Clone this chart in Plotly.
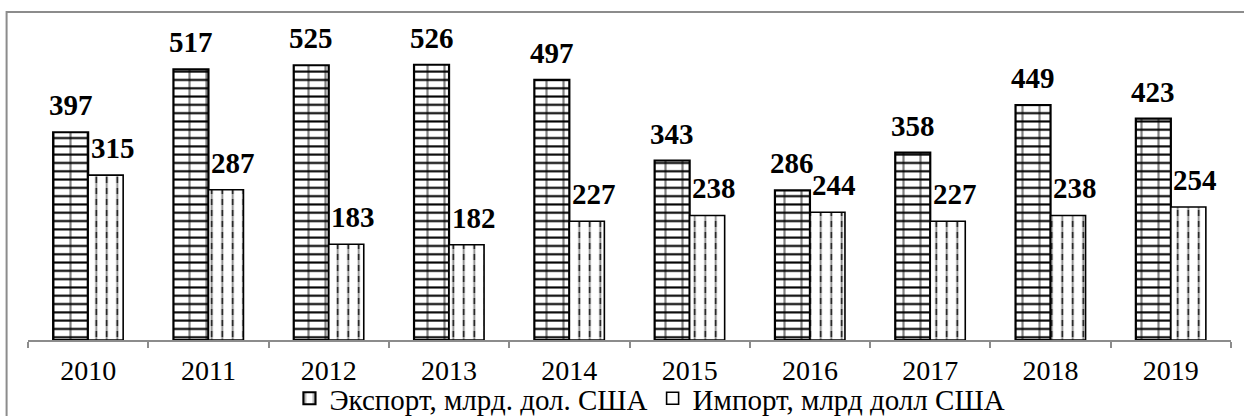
import plotly.graph_objects as go

years = ["2010", "2011", "2012", "2013", "2014", "2015", "2016", "2017", "2018", "2019"]
export_vals = [397, 517, 525, 526, 497, 343, 286, 358, 449, 423]
import_vals = [315, 287, 183, 182, 227, 238, 244, 227, 238, 254]
export_name = "Экспорт, млрд. дол. США"
import_name = "Импорт, млрд долл США"

FONT = "Liberation Serif, Times New Roman, serif"
BW = 0.291  # bar width in category units

fig = go.Figure()

# Export: horizontal brick courses (bottom layer)
fig.add_trace(go.Bar(
    x=years, y=export_vals, width=BW, offset=-BW, showlegend=False, hoverinfo="skip",
    marker=dict(color="white", line=dict(width=0),
                pattern=dict(shape="-", size=8.3, solidity=0.25,
                             fgcolor="black", bgcolor="white", fillmode="replace")),
))
# Export: vertical joints + outline (top layer)
fig.add_trace(go.Bar(
    x=years, y=export_vals, width=BW, offset=-BW, name=export_name,
    marker=dict(color="rgba(0,0,0,0)", line=dict(width=2.2, color="black"),
                pattern=dict(shape="|", size=17, solidity=0.13,
                             fgcolor="black", bgcolor="rgba(0,0,0,0)", fillmode="overlay")),
))
# Import: vertical lines (bottom layer)
fig.add_trace(go.Bar(
    x=years, y=import_vals, width=BW, offset=0, showlegend=False, hoverinfo="skip",
    marker=dict(color="white", line=dict(width=0),
                pattern=dict(shape="|", size=10.5, solidity=0.16,
                             fgcolor="black", bgcolor="white", fillmode="replace")),
))
# Import: white breaks to make dashes + outline (top layer)
fig.add_trace(go.Bar(
    x=years, y=import_vals, width=BW, offset=0, name=import_name,
    marker=dict(color="rgba(0,0,0,0)", line=dict(width=1.6, color="black"),
                pattern=dict(shape="-", size=11, solidity=0.45,
                             fgcolor="white", bgcolor="rgba(0,0,0,0)", fillmode="overlay")),
))

annotations = []
for i, v in enumerate(export_vals):
    annotations.append(dict(x=i, y=v, xref="x", yref="y", text=str(v), showarrow=False,
                            xanchor="center", yanchor="bottom", xshift=-17.5, yshift=9,
                            font=dict(family=FONT, size=29, color="black", weight="bold")))
for i, v in enumerate(import_vals):
    annotations.append(dict(x=i, y=v, xref="x", yref="y", text=str(v), showarrow=False,
                            xanchor="center", yanchor="bottom", xshift=24.5, yshift=9,
                            font=dict(family=FONT, size=29, color="black", weight="bold")))

fig.update_layout(
    width=1244, height=416,
    margin=dict(l=28, r=13, t=26, b=76, autoexpand=False),
    barmode="overlay",
    paper_bgcolor="white", plot_bgcolor="white",
    font=dict(family=FONT, color="black"),
    annotations=annotations,
    showlegend=True,
    legend=dict(orientation="h", x=0.517, xanchor="center", y=-0.186, yanchor="middle",
                font=dict(family=FONT, size=29, color="black"),
                itemwidth=30, traceorder="normal", bgcolor="rgba(0,0,0,0)"),
    shapes=[dict(type="rect", xref="paper", yref="paper",
                 x0=-0.0178, x1=1.05, y0=-0.6, y1=1.0446,
                 line=dict(color="#8c8c8c", width=2), fillcolor="rgba(0,0,0,0)", layer="below")],
)
fig.update_xaxes(type="category", range=[-0.5, 9.5], showline=True, linecolor="#8c8c8c",
                 linewidth=1.5, ticks="outside", tickson="boundaries", ticklen=6,
                 tickcolor="#8c8c8c", tickwidth=1.5, showgrid=False, ticklabelstandoff=5,
                 tickfont=dict(family=FONT, size=28, color="black"))
fig.update_yaxes(range=[0, 600], visible=False, showgrid=False)

fig.write_html("out.html", config={"displayModeBar": False},
               post_script="document.body.style.margin='0';document.body.style.overflow='hidden';")
